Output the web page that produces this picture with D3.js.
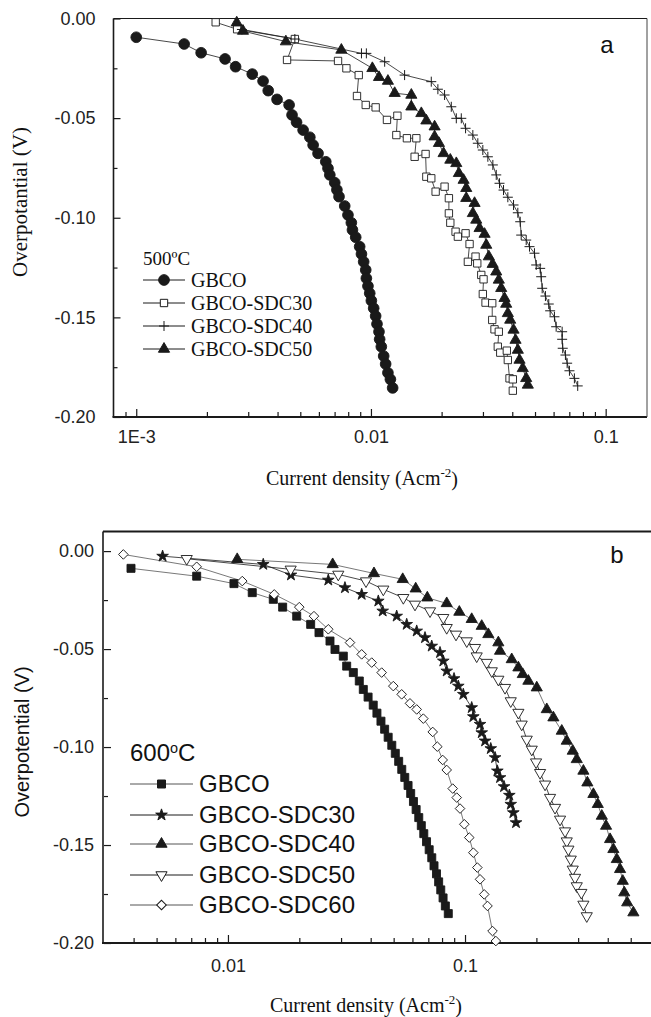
<!DOCTYPE html>
<html>
<head>
<meta charset="utf-8">
<script src="https://cdn.jsdelivr.net/npm/d3@7"></script>
<style>
body { margin: 0; background: #fff; }
svg { display: block; }
</style>
</head>
<body>
<script>
// ---- panel a : 500 C  ([current density, overpotential])
var gbco500 = [[0.00100,-0.0094],[0.00160,-0.0128],[0.00189,-0.0172],[0.00239,-0.0203],[0.00265,-0.0242],[0.00312,-0.0279],[0.00347,-0.0314],[0.00365,-0.0362],[0.00398,-0.0406],[0.00448,-0.0434],[0.00461,-0.0484],[0.00482,-0.0521],[0.00514,-0.0560],[0.00549,-0.0596],[0.00567,-0.0635],[0.00595,-0.0677],[0.00642,-0.0719],[0.00656,-0.0752],[0.00668,-0.0785],[0.00701,-0.0824],[0.00716,-0.0860],[0.00731,-0.0894],[0.00773,-0.0941],[0.00798,-0.0986],[0.00825,-0.1025],[0.00834,-0.1061],[0.00861,-0.1098],[0.00895,-0.1145],[0.00911,-0.1182],[0.00931,-0.1221],[0.00950,-0.1262],[0.00956,-0.1304],[0.00971,-0.1343],[0.00988,-0.1379],[0.01004,-0.1416],[0.01027,-0.1454],[0.01047,-0.1493],[0.01061,-0.1533],[0.01082,-0.1572],[0.01089,-0.1610],[0.01107,-0.1647],[0.01133,-0.1694],[0.01155,-0.1734],[0.01181,-0.1778],[0.01210,-0.1811],[0.01237,-0.1854]];
var sdc30_500 = [[0.00218,-0.0019],[0.00269,-0.0054],[0.00474,-0.0103],[0.00439,-0.0208],[0.00724,-0.0213],[0.00786,-0.0250],[0.00887,-0.0284],[0.00872,-0.0389],[0.00950,-0.0434],[0.01047,-0.0446],[0.01170,-0.0509],[0.01296,-0.0488],[0.01283,-0.0585],[0.01423,-0.0601],[0.01561,-0.0601],[0.01535,-0.0694],[0.01709,-0.0680],[0.01722,-0.0794],[0.01807,-0.0802],[0.01886,-0.0869],[0.02059,-0.0844],[0.02148,-0.0902],[0.02148,-0.0978],[0.02178,-0.1025],[0.02294,-0.1070],[0.02346,-0.1095],[0.02530,-0.1078],[0.02631,-0.1132],[0.02588,-0.1221],[0.02790,-0.1195],[0.02837,-0.1229],[0.02951,-0.1287],[0.03018,-0.1309],[0.02997,-0.1383],[0.03078,-0.1426],[0.03286,-0.1429],[0.03286,-0.1513],[0.03361,-0.1560],[0.03505,-0.1572],[0.03471,-0.1647],[0.03555,-0.1677],[0.03792,-0.1667],[0.03830,-0.1714],[0.03894,-0.1806],[0.04022,-0.1811],[0.04022,-0.1868]];
var sdc40_500 = [[0.00282,-0.0055],[0.00474,-0.0103],[0.00911,-0.0175],[0.00956,-0.0175],[0.01144,-0.0217],[0.01391,-0.0284],[0.01807,-0.0317],[0.01928,-0.0355],[0.02059,-0.0384],[0.02199,-0.0443],[0.02310,-0.0501],[0.02426,-0.0501],[0.02530,-0.0551],[0.02717,-0.0585],[0.02853,-0.0626],[0.02997,-0.0660],[0.03148,-0.0694],[0.03306,-0.0735],[0.03418,-0.0785],[0.03530,-0.0827],[0.03671,-0.0861],[0.03830,-0.0897],[0.04050,-0.0936],[0.04224,-0.0975],[0.04324,-0.1020],[0.04366,-0.1087],[0.04586,-0.1112],[0.04736,-0.1145],[0.04974,-0.1178],[0.05058,-0.1237],[0.05260,-0.1254],[0.05311,-0.1296],[0.05364,-0.1354],[0.05539,-0.1393],[0.05722,-0.1433],[0.05800,-0.1467],[0.06050,-0.1497],[0.06153,-0.1547],[0.06525,-0.1572],[0.06525,-0.1610],[0.06562,-0.1655],[0.06738,-0.1689],[0.06853,-0.1730],[0.07009,-0.1768],[0.07358,-0.1806],[0.07601,-0.1844]];
var sdc50_500 = [[0.00268,-0.0021],[0.00285,-0.0063],[0.00434,-0.0116],[0.00748,-0.0158],[0.01014,-0.0250],[0.01082,-0.0295],[0.01181,-0.0314],[0.01262,-0.0375],[0.01486,-0.0384],[0.01486,-0.0443],[0.01639,-0.0476],[0.01722,-0.0513],[0.01867,-0.0543],[0.01867,-0.0593],[0.01948,-0.0626],[0.02039,-0.0677],[0.02178,-0.0710],[0.02310,-0.0727],[0.02369,-0.0777],[0.02481,-0.0811],[0.02547,-0.0852],[0.02547,-0.0902],[0.02763,-0.0927],[0.02717,-0.0978],[0.02809,-0.1011],[0.02902,-0.1053],[0.03048,-0.1082],[0.03099,-0.1137],[0.03178,-0.1195],[0.03300,-0.1233],[0.03418,-0.1271],[0.03505,-0.1312],[0.03589,-0.1354],[0.03707,-0.1404],[0.03769,-0.1433],[0.03830,-0.1480],[0.03920,-0.1513],[0.04050,-0.1563],[0.04130,-0.1614],[0.04224,-0.1664],[0.04295,-0.1714],[0.04434,-0.1756],[0.04586,-0.1806],[0.04659,-0.1839]];

// ---- panel b : 600 C
var gbco600 = [[0.00390,-0.0088],[0.00738,-0.0128],[0.01060,-0.0166],[0.01266,-0.0212],[0.01553,-0.0246],[0.01701,-0.0286],[0.01950,-0.0332],[0.02233,-0.0374],[0.02421,-0.0416],[0.02694,-0.0459],[0.02828,-0.0502],[0.03066,-0.0536],[0.03168,-0.0587],[0.03379,-0.0620],[0.03581,-0.0663],[0.03723,-0.0706],[0.0390,-0.0745],[0.0410,-0.0786],[0.0425,-0.0827],[0.0442,-0.0868],[0.0458,-0.0909],[0.0474,-0.0950],[0.0491,-0.0991],[0.0508,-0.1032],[0.0525,-0.1073],[0.0541,-0.1114],[0.0557,-0.1155],[0.0575,-0.1196],[0.0590,-0.1237],[0.0606,-0.1278],[0.0622,-0.1319],[0.0638,-0.1360],[0.0654,-0.1401],[0.0670,-0.1442],[0.0688,-0.1483],[0.0706,-0.1524],[0.0724,-0.1565],[0.0740,-0.1606],[0.0758,-0.1647],[0.0774,-0.1688],[0.0790,-0.1729],[0.0808,-0.1770],[0.0826,-0.1811],[0.0850,-0.1850]];
var sdc30_600 = [[0.00530,-0.0026],[0.01409,-0.0068],[0.01844,-0.0122],[0.02650,-0.0148],[0.03115,-0.0187],[0.03665,-0.0221],[0.04307,-0.0255],[0.04495,-0.0306],[0.05149,-0.0332],[0.05675,-0.0374],[0.06254,-0.0408],[0.06779,-0.0442],[0.07236,-0.0485],[0.07843,-0.0518],[0.08098,-0.0561],[0.08371,-0.0612],[0.08987,-0.0651],[0.09369,-0.0689],[0.09835,-0.0731],[0.1067,-0.0799],[0.1084,-0.0845],[0.1157,-0.0884],[0.1176,-0.0927],[0.1215,-0.0969],[0.1284,-0.1008],[0.1339,-0.1054],[0.1369,-0.1122],[0.1405,-0.1156],[0.1461,-0.1202],[0.1538,-0.1246],[0.1559,-0.1292],[0.1599,-0.1335],[0.1641,-0.1386]];
var sdc40_600 = [[0.01094,-0.0042],[0.02765,-0.0068],[0.04130,-0.0114],[0.05459,-0.0144],[0.06194,-0.0192],[0.06932,-0.0238],[0.08371,-0.0267],[0.09461,-0.0311],[0.1067,-0.0348],[0.1176,-0.0383],[0.1254,-0.0425],[0.1382,-0.0467],[0.1405,-0.0510],[0.1574,-0.0553],[0.1679,-0.0595],[0.1752,-0.0629],[0.1850,-0.0663],[0.2007,-0.0697],[0.2212,-0.0808],[0.2359,-0.0850],[0.2559,-0.0918],[0.2686,-0.0969],[0.2847,-0.1020],[0.2960,-0.1063],[0.3157,-0.1122],[0.3281,-0.1182],[0.3479,-0.1241],[0.3631,-0.1292],[0.3775,-0.1352],[0.3935,-0.1403],[0.4091,-0.1471],[0.4224,-0.1522],[0.4367,-0.1573],[0.4508,-0.1624],[0.4628,-0.1684],[0.4696,-0.1743],[0.4831,-0.1794],[0.5130,-0.1845]];
var sdc50_600 = [[0.00670,-0.0039],[0.01839,-0.0093],[0.02920,-0.0119],[0.03822,-0.0153],[0.04522,-0.0195],[0.05492,-0.0238],[0.06152,-0.0272],[0.07118,-0.0306],[0.08098,-0.0340],[0.08371,-0.0391],[0.09162,-0.0425],[0.1017,-0.0459],[0.1102,-0.0493],[0.1120,-0.0536],[0.1235,-0.0569],[0.1297,-0.0612],[0.1382,-0.0655],[0.1475,-0.0697],[0.1559,-0.0765],[0.1679,-0.0824],[0.1734,-0.0884],[0.1821,-0.0961],[0.1912,-0.1012],[0.1994,-0.1077],[0.2073,-0.1131],[0.2176,-0.1190],[0.2284,-0.1258],[0.2397,-0.1309],[0.2517,-0.1369],[0.2642,-0.1429],[0.2686,-0.1480],[0.2729,-0.1522],[0.2793,-0.1573],[0.2847,-0.1624],[0.2911,-0.1666],[0.2960,-0.1709],[0.3095,-0.1743],[0.3157,-0.1803],[0.3262,-0.1862]];
var sdc60_600 = [[0.00362,-0.0017],[0.00738,-0.0080],[0.01149,-0.0153],[0.01568,-0.0221],[0.01999,-0.0286],[0.02306,-0.0332],[0.02650,-0.0399],[0.03272,-0.0467],[0.03665,-0.0527],[0.04040,-0.0569],[0.04451,-0.0620],[0.04983,-0.0689],[0.05405,-0.0731],[0.05859,-0.0777],[0.06254,-0.0808],[0.06669,-0.0855],[0.07306,-0.0923],[0.07640,-0.0998],[0.08051,-0.1066],[0.08371,-0.1117],[0.08874,-0.1212],[0.09226,-0.1258],[0.09526,-0.1314],[0.09931,-0.1394],[0.1042,-0.1462],[0.1084,-0.1539],[0.1127,-0.1615],[0.1157,-0.1675],[0.1205,-0.1752],[0.1244,-0.1811],[0.1306,-0.1939],[0.1349,-0.1990]];

var namesA = ["GBCO", "GBCO-SDC30", "GBCO-SDC40", "GBCO-SDC50"];
var namesB = ["GBCO", "GBCO-SDC30", "GBCO-SDC40", "GBCO-SDC50", "GBCO-SDC60"];

var yTicks = [0, -0.05, -0.10, -0.15, -0.20];
var yMinorTicks = [-0.025, -0.075, -0.125, -0.175];
var xTicksA = [0.001, 0.01, 0.1];
var xLabelsA = ["1E-3", "0.01", "0.1"];
var xMinorA = [0.0009, 0.002, 0.003, 0.004, 0.005, 0.006, 0.007, 0.008, 0.009, 0.02, 0.03, 0.04, 0.05, 0.06, 0.07, 0.08, 0.09];
var xTicksB = [0.01, 0.1];
var xLabelsB = ["0.01", "0.1"];
var xMinorB = [0.004, 0.005, 0.006, 0.007, 0.008, 0.009, 0.02, 0.03, 0.04, 0.05, 0.06, 0.07, 0.08, 0.09, 0.2, 0.3, 0.4, 0.5];

var serif = "'Liberation Serif', 'Times New Roman', serif";
var sans = "'Liberation Sans', Arial, sans-serif";
var ink = "#1a1a1a";

var svg = d3.select("body").append("svg")
    .attr("width", 651)
    .attr("height", 1017);

// marker shapes
function markerPath(kind, big) {
    if (kind == "circle") return d3.symbol(d3.symbolCircle, 90)();
    if (kind == "square") return d3.symbol(d3.symbolSquare, big ? 64 : 54)();
    if (kind == "plus") return "M-5,0H5M0,-5V5";
    if (kind == "triangle" || kind == "triangleDown") return d3.symbol(d3.symbolTriangle, 54)();
    if (kind == "star") return d3.symbol(d3.symbolStar, 42)();
    if (kind == "diamond") return d3.symbol(d3.symbolSquare, 46)();
}
function markerRot(kind) {
    if (kind == "triangleDown") return 180;
    if (kind == "diamond") return 45;
    return 0;
}
function addMarkers(g, pts, x, y, st) {
    g.selectAll(null)
        .data(pts)
        .enter().append("path")
        .attr("d", markerPath(st.kind, st.big))
        .attr("transform", function(d) {
            return "translate(" + x(d[0]) + "," + y(d[1]) + ") rotate(" + markerRot(st.kind) + ")";
        })
        .attr("fill", st.fill)
        .attr("stroke", ink)
        .attr("stroke-width", st.kind == "plus" ? 1 : 0.9);
}

function drawPanel(p) {
    var g = svg.append("g");
    var x = p.x, y = p.y;
    var x0 = x.range()[0], y0 = y.range()[0];

    // y axis, major + minor, ticks inward
    var ya = g.append("g")
        .attr("transform", "translate(" + x0 + ",0)")
        .call(d3.axisLeft(y).tickValues(yTicks).tickSize(-7).tickSizeOuter(0)
            .tickPadding(p.yPad).tickFormat(function(d) { return d.toFixed(2); }));
    g.append("g")
        .attr("transform", "translate(" + x0 + ",0)")
        .call(d3.axisLeft(y).tickValues(yMinorTicks).tickSize(-4).tickSizeOuter(0).tickFormat(""));

    var xa = g.append("g")
        .attr("transform", "translate(0," + y0 + ")")
        .call(d3.axisBottom(x).tickValues(p.xTicks).tickSize(-8).tickSizeOuter(0)
            .tickPadding(p.xPad).tickFormat(function(d, i) { return p.xLabels[i]; }));
    g.append("g")
        .attr("transform", "translate(0," + y0 + ")")
        .call(d3.axisBottom(x).tickValues(p.xMinor).tickSize(-5).tickSizeOuter(0).tickFormat(""));

    g.selectAll(".domain").remove();
    g.selectAll(".tick line").attr("stroke", ink).attr("stroke-width", 1.2);
    g.selectAll(".tick text").attr("fill", "#222");
    [ya, xa].forEach(function(a) {
        a.attr("font-family", sans).attr("font-size", 18);
    });

    // frame
    var fr = p.frame;
    g.append("line").attr("x1", fr.left).attr("x2", fr.right).attr("y1", fr.top).attr("y2", fr.top)
        .attr("stroke", ink).attr("stroke-width", p.topWidth);
    g.append("line").attr("x1", fr.left).attr("x2", fr.left).attr("y1", fr.top).attr("y2", fr.bottom)
        .attr("stroke", ink).attr("stroke-width", 1.6);
    g.append("line").attr("x1", fr.left - 1).attr("x2", fr.right).attr("y1", fr.bottom).attr("y2", fr.bottom)
        .attr("stroke", ink).attr("stroke-width", 2);
    if (p.rightBorder) {
        g.append("line").attr("x1", fr.right).attr("x2", fr.right).attr("y1", fr.top).attr("y2", fr.bottom)
            .attr("stroke", "#444").attr("stroke-width", 1);
    }

    var line = d3.line()
        .x(function(d) { return x(d[0]); })
        .y(function(d) { return y(d[1]); });

    p.series.forEach(function(s) {
        g.append("path")
            .datum(s.data)
            .attr("d", line)
            .attr("fill", "none")
            .attr("stroke", s.lineColor || ink)
            .attr("stroke-width", 0.8);
    });
    p.series.forEach(function(s) {
        addMarkers(g.append("g"), s.data, x, y, s);
    });

    // legend
    var lg = p.legend;
    var t = g.append("text")
        .attr("x", lg.x)
        .attr("y", lg.titleY)
        .attr("dy", "0.35em")
        .attr("font-family", lg.font)
        .attr("font-size", lg.titleSize)
        .attr("fill", "#111");
    t.append("tspan").text(lg.title[0]);
    if (lg.title.length > 2) {
        t.append("tspan").attr("font-size", lg.titleSize * 0.6).attr("dy", "-0.6em").text(lg.title[1]);
        t.append("tspan").attr("dy", "0.35em").text(lg.title[2]);
    }
    p.series.forEach(function(s, i) {
        var ry = lg.rowY[i];
        g.append("line")
            .attr("x1", lg.x).attr("x2", lg.x + lg.lineLen)
            .attr("y1", ry).attr("y2", ry)
            .attr("stroke", s.lineColor || ink).attr("stroke-width", 1);
        g.append("path")
            .attr("d", markerPath(s.kind, s.big))
            .attr("transform", "translate(" + (lg.x + lg.lineLen / 2) + "," + ry + ") rotate(" + markerRot(s.kind) + ")")
            .attr("fill", s.fill)
            .attr("stroke", ink)
            .attr("stroke-width", 1);
        g.append("text")
            .attr("x", lg.x + lg.lineLen + 6)
            .attr("y", ry)
            .attr("dy", "0.35em")
            .attr("font-family", lg.font)
            .attr("font-size", lg.size)
            .attr("fill", "#111")
            .text(p.names[i]);
    });

    // titles
    var xt = g.append("text")
        .attr("x", p.xTitle[0]).attr("y", p.xTitle[1])
        .attr("text-anchor", "middle")
        .attr("font-family", serif).attr("font-size", 20).attr("fill", "#111");
    xt.append("tspan").text("Current density (Acm");
    xt.append("tspan").attr("font-size", 13).attr("dy", "-0.6em").text("-2");
    xt.append("tspan").attr("dy", "0.45em").text(")");

    g.append("text")
        .attr("transform", "translate(" + p.yTitle[0] + "," + p.yTitle[1] + ") rotate(-90)")
        .attr("text-anchor", "middle")
        .attr("dy", "0.35em")
        .attr("font-family", p.yTitleFont).attr("font-size", p.yTitleSize).attr("fill", "#111")
        .text(p.yTitleText);

    g.append("text")
        .attr("x", p.tag[0]).attr("y", p.tag[1])
        .attr("dy", "0.35em")
        .attr("text-anchor", "middle")
        .attr("font-family", sans).attr("font-size", 24).attr("fill", "#111")
        .text(p.tag[2]);
}

drawPanel({
    x: d3.scaleLog().domain([0.0008, 0.15]).range([113.5, 647]),
    y: d3.scaleLinear().domain([-0.2, 0]).range([417, 18.5]),
    frame: { left: 113.5, right: 647, top: 18.5, bottom: 417 },
    topWidth: 1.2,
    rightBorder: true,
    yPad: 18,
    xPad: 13,
    xTicks: xTicksA, xLabels: xLabelsA, xMinor: xMinorA,
    names: namesA,
    series: [
        { data: gbco500, kind: "circle", fill: ink },
        { data: sdc30_500, kind: "square", fill: "#fff" },
        { data: sdc40_500, kind: "plus", fill: "none" },
        { data: sdc50_500, kind: "triangle", fill: ink }
    ],
    legend: { x: 143, lineLen: 42, titleY: 258, title: ["500\u00baC"], titleSize: 19, font: serif, size: 20,
        rowY: [280, 303, 326, 349] },
    xTitle: [362, 485],
    yTitle: [20, 202],
    yTitleFont: serif,
    yTitleSize: 21,
    yTitleText: "Overpotantial (V)",
    tag: [607, 45, "a"]
});

drawPanel({
    x: d3.scaleLog().domain([0.003, 0.6]).range([104, 649.5]),
    y: d3.scaleLinear().domain([-0.2, 0.01]).range([943, 531.5]),
    frame: { left: 103, right: 651, top: 531.5, bottom: 943 },
    topWidth: 2,
    rightBorder: false,
    yPad: 10,
    xPad: 16,
    xTicks: xTicksB, xLabels: xLabelsB, xMinor: xMinorB,
    names: namesB,
    series: [
        { data: gbco600, kind: "square", fill: ink, lineColor: "#555", big: true },
        { data: sdc30_600, kind: "star", fill: ink },
        { data: sdc40_600, kind: "triangle", fill: ink, lineColor: "#555" },
        { data: sdc50_600, kind: "triangleDown", fill: "#fff" },
        { data: sdc60_600, kind: "diamond", fill: "#fff", lineColor: "#555" }
    ],
    legend: { x: 130, lineLen: 63, titleY: 753, title: ["600", "o", "C"], titleSize: 24, font: sans, size: 24,
        rowY: [784, 815, 844, 875, 905] },
    xTitle: [366, 1012],
    yTitle: [22, 742],
    yTitleFont: sans,
    yTitleSize: 20,
    yTitleText: "Overpotential (V)",
    tag: [617, 555, "b"]
});
</script>
</body>
</html>
